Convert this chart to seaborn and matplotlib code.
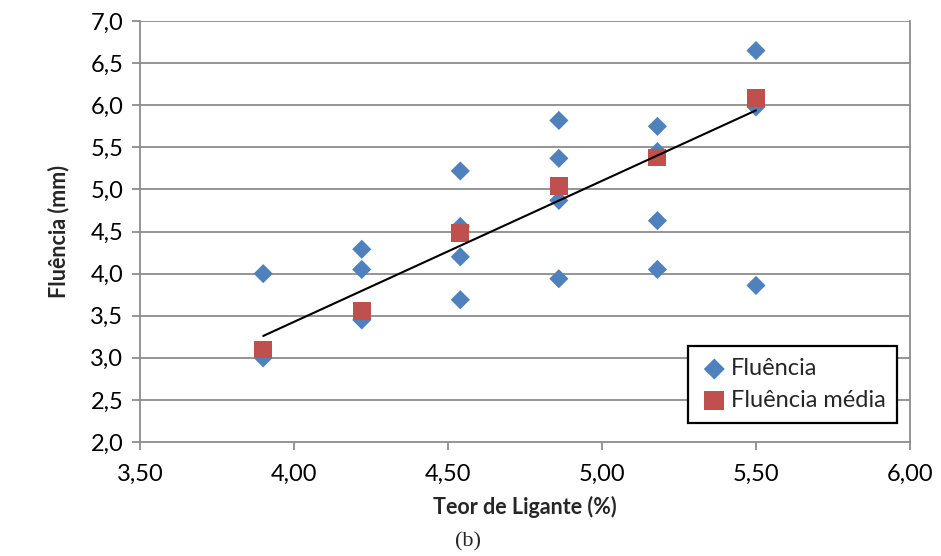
import numpy as np
import pandas as pd
import matplotlib
matplotlib.use('Agg')
import matplotlib.pyplot as plt
import seaborn as sns
from matplotlib.ticker import FuncFormatter

# data
teor_pontos = [3.90, 3.90,
               4.22, 4.22, 4.22,
               4.54, 4.54, 4.54, 4.54,
               4.86, 4.86, 4.86, 4.86,
               5.18, 5.18, 5.18, 5.18,
               5.50, 5.50, 5.50]
fluencia = [4.00, 3.00,
            4.29, 4.05, 3.45,
            5.22, 4.56, 4.20, 3.69,
            5.82, 5.37, 4.87, 3.94,
            5.75, 5.45, 4.63, 4.05,
            6.65, 5.98, 3.86]
teor = [3.90, 4.22, 4.54, 4.86, 5.18, 5.50]
fluencia_media = [3.10, 3.56, 4.48, 5.04, 5.38, 6.09]
trend_x = [3.90, 5.50]
trend_y = [3.26, 5.94]

sns.set_style('white')
plt.rcParams['font.family'] = ['Lato', 'DejaVu Sans']

pontos = pd.DataFrame({'Teor': teor_pontos, 'Fluencia': fluencia})
medias = pd.DataFrame({'Teor': teor, 'Fluencia': fluencia_media})

fig = plt.figure(figsize=(9.41, 5.56), dpi=100)
ax = fig.add_axes([0.1488, 0.205, 0.8182, 0.757])

grid_color = '#8c8c8c'
for v in np.arange(2.5, 7.01, 0.5):
    ax.axhline(v, color=grid_color, lw=1.3, zorder=0)

sns.scatterplot(data=pontos, x='Teor', y='Fluencia', marker='D', s=95,
                color='#4F81BD', edgecolor='none', label='Fluência', ax=ax, zorder=2)
sns.scatterplot(data=medias, x='Teor', y='Fluencia', marker='s', s=165,
                color='#C0504D', edgecolor='none', label='Fluência média', ax=ax, zorder=3)
sns.lineplot(x=trend_x, y=trend_y, color='black', lw=1.5, ax=ax, zorder=4)

ax.set_xlim(3.5, 6.0)
ax.set_ylim(2.0, 7.0)
ax.set_xticks(np.arange(3.5, 6.01, 0.5))
ax.set_yticks(np.arange(2.0, 7.01, 0.5))
ax.xaxis.set_major_formatter(FuncFormatter(lambda v, p: f'{v:.2f}'.replace('.', ',')))
ax.yaxis.set_major_formatter(FuncFormatter(lambda v, p: f'{v:.1f}'.replace('.', ',')))
ax.tick_params(axis='both', labelsize=17, colors='black', length=6, width=1.3,
               direction='out')
ax.tick_params(axis='both', color=grid_color)
ax.tick_params(axis='x', bottom=True, pad=10)
ax.tick_params(axis='y', left=True, pad=6)

for side in ['left', 'bottom', 'right']:
    ax.spines[side].set_color(grid_color)
    ax.spines[side].set_linewidth(1.3)
ax.spines['top'].set_visible(False)

ax.set_xlabel('Teor de Ligante (%)', fontsize=15.5, fontweight='bold', labelpad=8)
ax.set_ylabel('Fluência (mm)', fontsize=15.5, fontweight='bold', labelpad=15)

leg = ax.legend(loc='lower right', bbox_to_anchor=(0.999, 0.018), fontsize=17,
                frameon=True, fancybox=False, edgecolor='black', framealpha=1,
                handletextpad=0.1, borderpad=0.5, labelspacing=0.45, handlelength=1.2,
                markerscale=1.1)
leg.get_frame().set_linewidth(1.6)

fig.text(0.497, 0.018, '(b)', fontsize=16, family='Liberation Serif', ha='center')

plt.savefig('out.png', dpi=100)
